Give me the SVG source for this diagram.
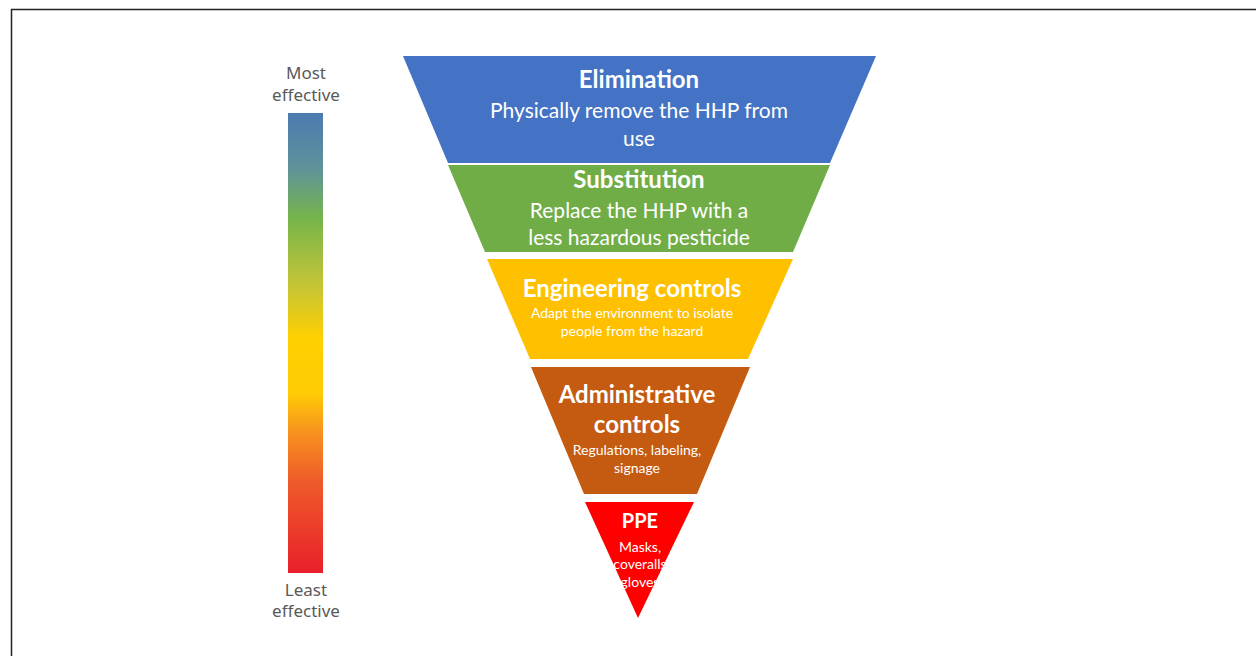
<svg xmlns="http://www.w3.org/2000/svg" width="1256" height="656" viewBox="0 0 1256 656">
<defs>
<linearGradient id="bar" x1="0" y1="0" x2="0" y2="1">
<stop offset="0" stop-color="#4C7BB0"/>
<stop offset="0.12" stop-color="#5F939A"/>
<stop offset="0.23" stop-color="#76B54A"/>
<stop offset="0.38" stop-color="#C8C535"/>
<stop offset="0.49" stop-color="#FFD000"/>
<stop offset="0.61" stop-color="#FFCB05"/>
<stop offset="0.69" stop-color="#F7941E"/>
<stop offset="0.8" stop-color="#EF5B2A"/>
<stop offset="1" stop-color="#E8202A"/>
</linearGradient>
</defs>
<style>
.lbl{font-family:"Noto Sans",Lato,sans-serif;font-size:17px;fill:#595959;text-anchor:middle}
.t{font-family:Lato,"Open Sans",sans-serif;fill:#ffffff;text-anchor:middle}
.h{font-size:24px;font-weight:bold}
.m{font-size:21px}
.s{font-size:14px}
</style>
<rect x="0" y="0" width="1256" height="656" fill="#ffffff"/>
<path d="M11.5,656 V9.5 H1256" fill="none" stroke="#222" stroke-width="1.5"/>
<g id="scale">
<rect x="288" y="113" width="35" height="460" fill="url(#bar)"/>
<text class="lbl" x="306" y="79">Most</text>
<text class="lbl" x="306" y="101">effective</text>
<text class="lbl" x="306" y="596">Least</text>
<text class="lbl" x="306" y="617">effective</text>
</g>
<g id="elimination">
<polygon points="403,56 876,56 830,163 448,163" fill="#4472C4"/>
<text class="t h" x="639" y="88">Elimination</text>
<text class="t m" x="639" y="118">Physically remove the HHP from</text>
<text class="t m" x="639" y="146">use</text>
</g>
<g id="substitution">
<polygon points="448,165 830,165 793,252 485,252" fill="#70AD47"/>
<text class="t h" x="639" y="188">Substitution</text>
<text class="t m" x="639" y="218">Replace the HHP with a</text>
<text class="t m" x="639" y="245">less hazardous pesticide</text>
</g>
<g id="engineering">
<polygon points="487,259 793,259 748,359 530,359" fill="#FFC000"/>
<text class="t h" x="632" y="297">Engineering controls</text>
<text class="t s" x="632" y="318">Adapt the environment to isolate</text>
<text class="t s" x="632" y="336">people from the hazard</text>
</g>
<g id="administrative">
<polygon points="531,367 750,367 697,494 584,494" fill="#C55A11"/>
<text class="t h" x="637" y="403">Administrative</text>
<text class="t h" x="637" y="433">controls</text>
<text class="t s" x="637" y="455">Regulations, labeling,</text>
<text class="t s" x="637" y="473">signage</text>
</g>
<g id="ppe">
<polygon points="585,502 694,502 638,618" fill="#FF0000"/>
<text class="t" x="640" y="528" font-size="20" font-weight="bold">PPE</text>
<text class="t s" x="640" y="552">Masks,</text>
<text class="t s" x="640" y="569">coveralls</text>
<text class="t s" x="640" y="587">gloves</text>
</g>
</svg>
